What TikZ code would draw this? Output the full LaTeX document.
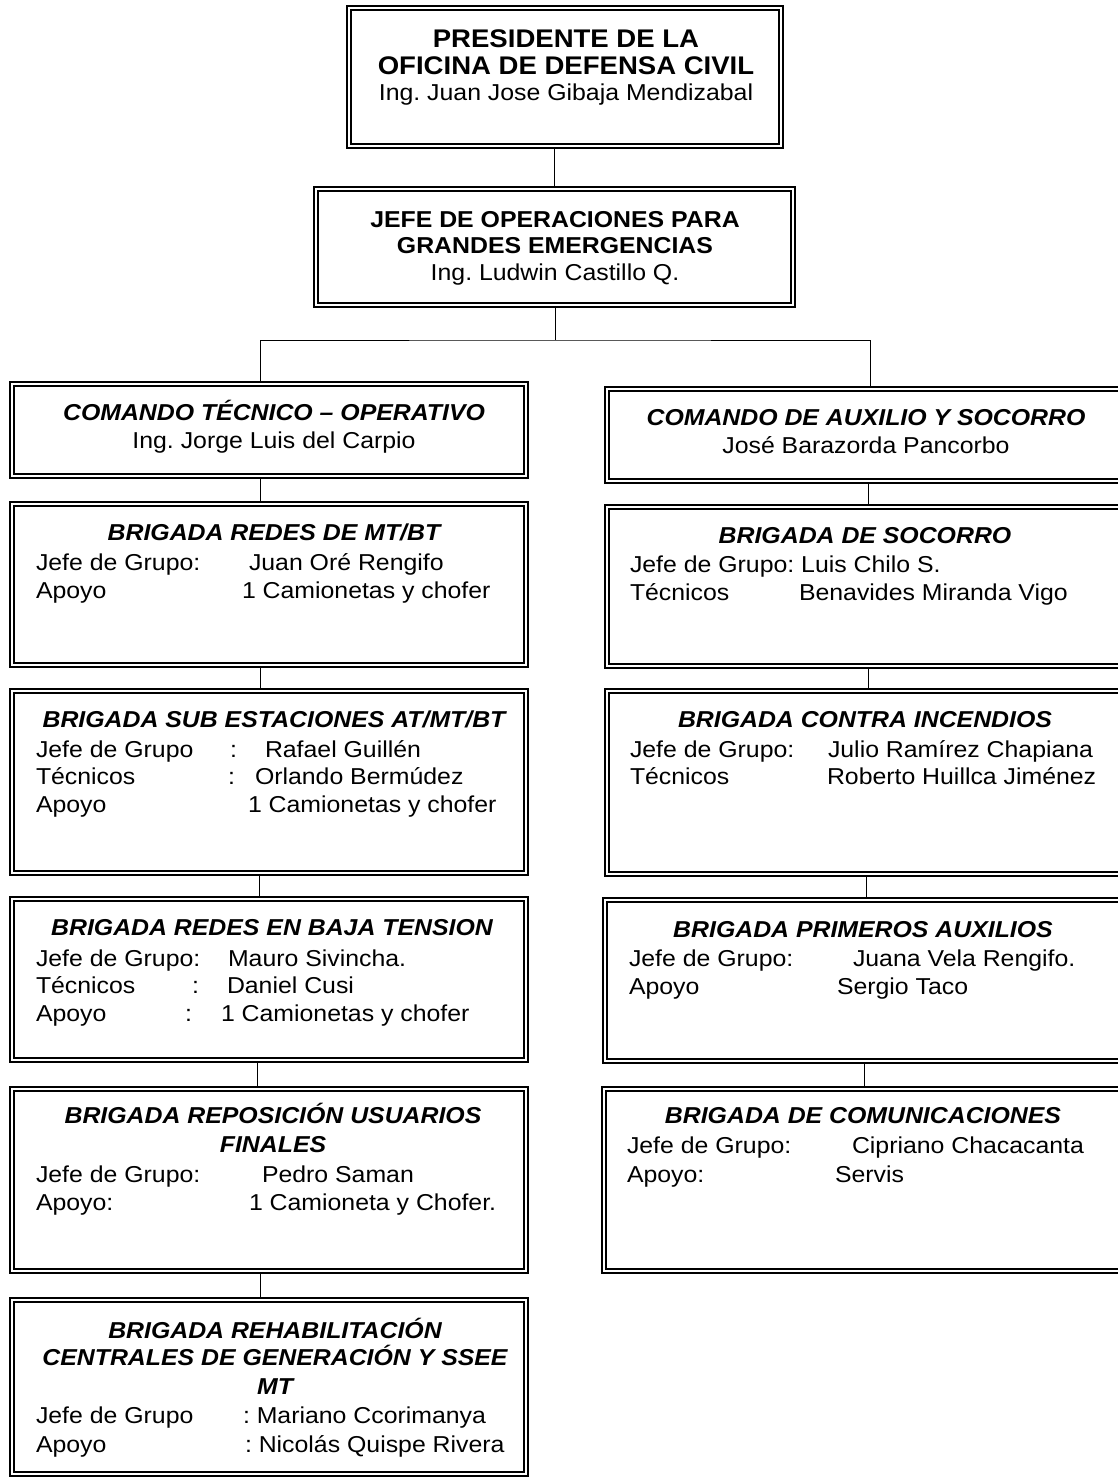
\documentclass[tikz,border=0pt]{standalone}
\usepackage{fontspec}
\setmainfont{Liberation Sans}[FakeStretch=1.08]
\frenchspacing
\tikzset{
  obox/.style={draw, line width=1.2pt, inner sep=0pt, outer sep=0pt, rectangle},
  hd/.style={inner sep=0pt, outer sep=0pt, anchor=base, font={\fontsize{23}{27}\selectfont\bfseries\itshape}},
  tb/.style={inner sep=0pt, outer sep=0pt, anchor=base, font={\fontsize{23}{27}\selectfont\bfseries}},
  tbig/.style={inner sep=0pt, outer sep=0pt, anchor=base, font={\fontsize{25.5}{27}\selectfont\bfseries}},
  tc/.style={inner sep=0pt, outer sep=0pt, anchor=base, font={\fontsize{23}{27}\selectfont}},
  tl/.style={inner sep=0pt, outer sep=0pt, anchor=base west, font={\fontsize{23}{27}\selectfont}},
  conn/.style={line width=1pt}
}
\newcommand\ocbox[5]{%
  \node[obox, minimum width={(#4)-(#2)}, minimum height={(#5)-(#3)}] (#1) at ({((#2)+(#4))/2},{((#3)+(#5))/2}) {};
  \draw[line width=2.2pt] ([xshift=4pt,yshift=-4pt]#1.north west) rectangle ([xshift=-4pt,yshift=4pt]#1.south east);
}
\begin{document}
\begin{tikzpicture}[x=1pt,y=-1pt]
\path[use as bounding box, clip] (0,0) rectangle (1118,1484);
\fill[white] (0,0) rectangle (1118,1484);

% ---------- boxes ----------
\ocbox{pres}{347}{6}{783}{148}
\ocbox{jefe}{314}{187}{795}{307}
% left column
\ocbox{ctec}{10}{382}{528}{478}
\ocbox{bmt}{10}{502}{528}{667}
\ocbox{bsub}{10}{689}{528}{875}
\ocbox{bbaja}{10}{897}{528}{1062}
\ocbox{brep}{10}{1087}{528}{1273}
\ocbox{breh}{10}{1298}{528}{1476}
% right column
\ocbox{caux}{605}{387}{1128}{483}
\ocbox{bsoc}{605}{505}{1128}{668}
\ocbox{binc}{605}{689}{1128}{876}
\ocbox{bpri}{603}{898}{1128}{1063}
\ocbox{bcom}{602}{1087}{1128}{1273}

% ---------- connectors ----------
\coordinate (xa) at (554,0);
\coordinate (bus) at (555,340);
\coordinate (xl) at (260,0);
\coordinate (xr) at (870,0);
\draw[conn] (pres.south -| xa) -- (jefe.north -| xa);
\draw[conn] (jefe.south -| bus) -- (bus);
\draw[conn] (ctec.north -| xl) |- (bus) -| (caux.north -| xr);

\coordinate (l1) at (260,0);
\coordinate (l2) at (260,0);
\coordinate (l3) at (259,0);
\coordinate (l4) at (257,0);
\coordinate (l5) at (260,0);
\draw[conn] (ctec.south -| l1) -- (bmt.north -| l1);
\draw[conn] (bmt.south -| l2) -- (bsub.north -| l2);
\draw[conn] (bsub.south -| l3) -- (bbaja.north -| l3);
\draw[conn] (bbaja.south -| l4) -- (brep.north -| l4);
\draw[conn] (brep.south -| l5) -- (breh.north -| l5);

\coordinate (r1) at (868,0);
\coordinate (r2) at (868,0);
\coordinate (r3) at (866,0);
\coordinate (r4) at (864,0);
\draw[conn] (caux.south -| r1) -- (bsoc.north -| r1);
\draw[conn] (bsoc.south -| r2) -- (binc.north -| r2);
\draw[conn] (binc.south -| r3) -- (bpri.north -| r3);
\draw[conn] (bpri.south -| r4) -- (bcom.north -| r4);

% ---------- texts ----------
\node[tbig] (pres1) at (566,47) {PRESIDENTE DE LA};
\node[tbig] (pres2) at (566,74) {OFICINA DE DEFENSA CIVIL};
\node[tc] (pres3) at (566,100) {Ing. Juan Jose Gibaja Mendizabal};

\node[tb] (jefe1) at (555,227) {JEFE DE OPERACIONES PARA};
\node[tb] (jefe2) at (555,253) {GRANDES EMERGENCIAS};
\node[tc] (jefe3) at (555,280) {Ing. Ludwin Castillo Q.};

% left column
\node[hd] (ctec1) at (274,420) {COMANDO TÉCNICO – OPERATIVO};
\node[tc] (ctec2) at (274,448) {Ing. Jorge Luis del Carpio};

\node[hd] (bmt1) at (274,540) {BRIGADA REDES DE MT/BT};
\node[tl] (bmt2) at (36,570) {Jefe de Grupo:};
\node[tl] (bmt3) at (249,570) {Juan Oré Rengifo};
\node[tl] (bmt4) at (36,598) {Apoyo};
\node[tl] (bmt5) at (242,598) {1 Camionetas y chofer};

\node[hd] (bsub1) at (274,727) {BRIGADA SUB ESTACIONES AT/MT/BT};
\node[tl] (bsub2) at (36,757) {Jefe de Grupo};
\node[tl] (bsub3) at (230,757) {:};
\node[tl] (bsub4) at (265,757) {Rafael Guillén};
\node[tl] (bsub5) at (36,784) {Técnicos};
\node[tl] (bsub6) at (228,784) {:};
\node[tl] (bsub7) at (255,784) {Orlando Bermúdez};
\node[tl] (bsub8) at (36,812) {Apoyo};
\node[tl] (bsub9) at (248,812) {1 Camionetas y chofer};

\node[hd] (bbaja1) at (272,935) {BRIGADA REDES EN BAJA TENSION};
\node[tl] (bbaja2) at (36,966) {Jefe de Grupo:};
\node[tl] (bbaja3) at (228,966) {Mauro Sivincha.};
\node[tl] (bbaja4) at (36,993) {Técnicos};
\node[tl] (bbaja5) at (192,993) {:};
\node[tl] (bbaja6) at (227,993) {Daniel Cusi};
\node[tl] (bbaja7) at (36,1021) {Apoyo};
\node[tl] (bbaja8) at (185,1021) {:};
\node[tl] (bbaja9) at (221,1021) {1 Camionetas y chofer};

\node[hd] (brep1) at (273,1123) {BRIGADA REPOSICIÓN USUARIOS};
\node[hd] (brep2) at (273,1152) {FINALES};
\node[tl] (brep3) at (36,1182) {Jefe de Grupo:};
\node[tl] (brep4) at (262,1182) {Pedro Saman};
\node[tl] (brep5) at (36,1210) {Apoyo:};
\node[tl] (brep6) at (249,1210) {1 Camioneta y Chofer.};

\node[hd] (breh1) at (275,1338) {BRIGADA REHABILITACIÓN};
\node[hd] (breh2) at (275,1365) {CENTRALES DE GENERACIÓN Y SSEE};
\node[hd] (breh3) at (275,1394) {MT};
\node[tl] (breh4) at (36,1423) {Jefe de Grupo};
\node[tl] (breh5) at (243,1423) {: Mariano Ccorimanya};
\node[tl] (breh6) at (36,1452) {Apoyo};
\node[tl] (breh7) at (245,1452) {: Nicolás Quispe Rivera};

% right column
\node[hd] (caux1) at (866,425) {COMANDO DE AUXILIO Y SOCORRO};
\node[tc] (caux2) at (866,453) {José Barazorda Pancorbo};

\node[hd] (bsoc1) at (865,543) {BRIGADA DE SOCORRO};
\node[tl] (bsoc2) at (630,572) {Jefe de Grupo: Luis Chilo S.};
\node[tl] (bsoc3) at (630,600) {Técnicos};
\node[tl] (bsoc4) at (799,600) {Benavides Miranda Vigo};

\node[hd] (binc1) at (865,727) {BRIGADA CONTRA INCENDIOS};
\node[tl] (binc2) at (630,757) {Jefe de Grupo:};
\node[tl] (binc3) at (828,757) {Julio Ramírez Chapiana};
\node[tl] (binc4) at (630,784) {Técnicos};
\node[tl] (binc5) at (827,784) {Roberto Huillca Jiménez};

\node[hd] (bpri1) at (863,937) {BRIGADA PRIMEROS AUXILIOS};
\node[tl] (bpri2) at (629,966) {Jefe de Grupo:};
\node[tl] (bpri3) at (853,966) {Juana Vela Rengifo.};
\node[tl] (bpri4) at (629,994) {Apoyo};
\node[tl] (bpri5) at (837,994) {Sergio Taco};

\node[hd] (bcom1) at (863,1123) {BRIGADA DE COMUNICACIONES};
\node[tl] (bcom2) at (627,1153) {Jefe de Grupo:};
\node[tl] (bcom3) at (852,1153) {Cipriano Chacacanta};
\node[tl] (bcom4) at (627,1182) {Apoyo:};
\node[tl] (bcom5) at (835,1182) {Servis};
\end{tikzpicture}
\end{document}
